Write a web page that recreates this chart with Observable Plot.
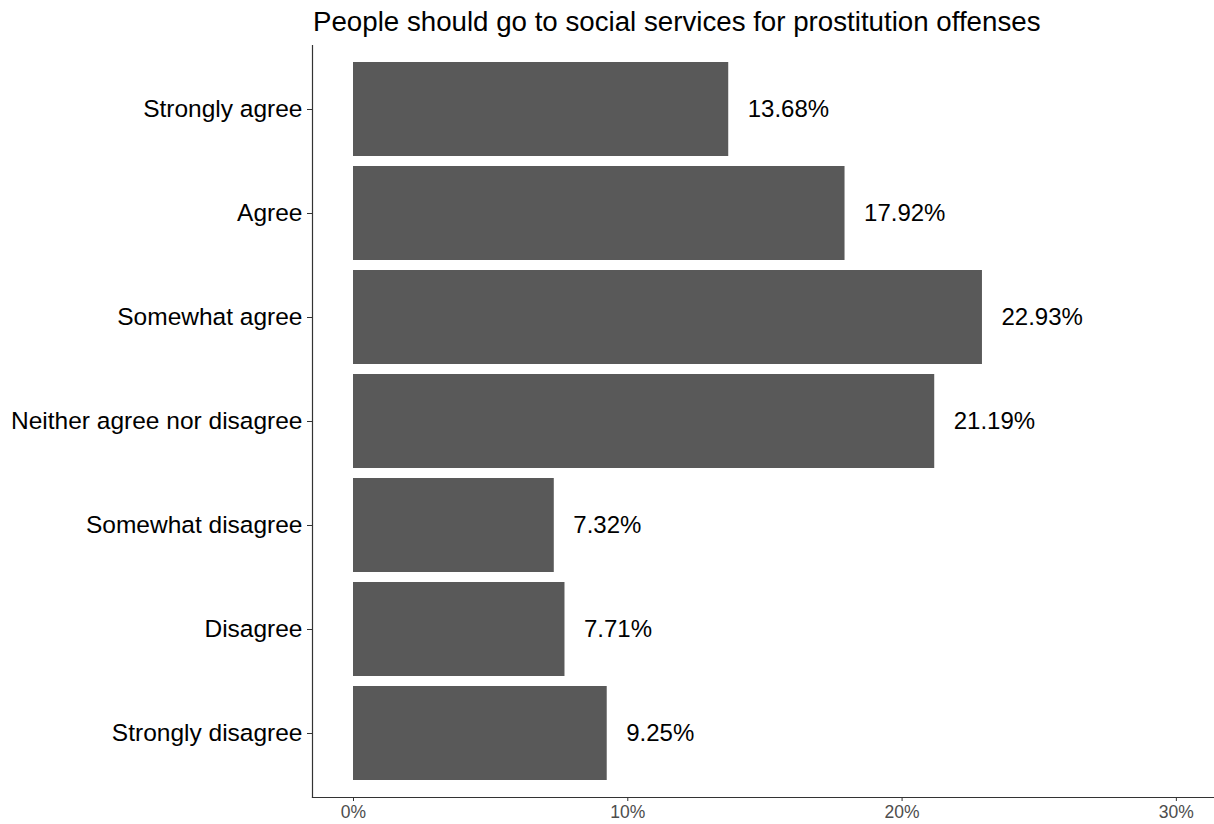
<!DOCTYPE html>
<html>
<head>
<meta charset="utf-8">
<script src="https://cdn.jsdelivr.net/npm/d3@7"></script>
<script src="https://cdn.jsdelivr.net/npm/@observablehq/plot@0.6"></script>
<style>
  html, body { margin: 0; padding: 0; background: #fff; }
  #title { box-sizing: border-box; height: 45px; padding-top: 8px; padding-left: 313px;
           font-family: "Liberation Sans", Arial, sans-serif; font-size: 27.7px; line-height: 28px; color: #000; white-space: nowrap; }
  #chart svg { display: block; }
</style>
</head>
<body>
<div id="title">People should go to social services for prostitution offenses</div>
<div id="chart"></div>
<script>
const categories = ["Strongly agree", "Agree", "Somewhat agree", "Neither agree nor disagree", "Somewhat disagree", "Disagree", "Strongly disagree"];
const shares = [0.1368, 0.1792, 0.2293, 0.2119, 0.0732, 0.0771, 0.0925];
const labels = ["13.68%", "17.92%", "22.93%", "21.19%", "7.32%", "7.71%", "9.25%"];
const xTicks = [0, 0.1, 0.2, 0.3];
const xTickLabels = ["0%", "10%", "20%", "30%"];

const data = categories.map((c, i) => ({category: c, share: shares[i], label: labels[i]}));
const xDomain = [-0.01495, 0.3139];

const plot = Plot.plot({
  width: 1214,
  height: 779,
  marginLeft: 312,
  marginRight: 0,
  marginTop: 0,
  marginBottom: 27,
  style: {fontFamily: "'Liberation Sans', Arial, sans-serif", background: "#fff"},
  x: {domain: xDomain, label: null},
  y: {domain: categories, paddingInner: 0.1, paddingOuter: 0.15, label: null},
  marks: [
    Plot.barX(data, {x1: 0, x2: "share", y: "category", fill: "#595959"}),
    Plot.text(data, {x: "share", y: "category", text: "label", textAnchor: "start", dx: 19, fontSize: 24, fill: "#000"}),
    Plot.axisY({tickSize: 5, tickPadding: 5, fontSize: 24.5, color: "#000", stroke: "#333", label: null}),
    Plot.axisX({ticks: xTicks, tickFormat: (d) => xTickLabels[xTicks.indexOf(d)], tickSize: 4, tickPadding: 4, fontSize: 17.5, fill: "#4d4d4d", stroke: "#333", label: null}),
    Plot.frame({anchor: "left", stroke: "#333", strokeWidth: 1.2}),
    Plot.frame({anchor: "bottom", stroke: "#333", strokeWidth: 1.2})
  ]
});
document.getElementById("chart").appendChild(plot);
</script>
</body>
</html>
